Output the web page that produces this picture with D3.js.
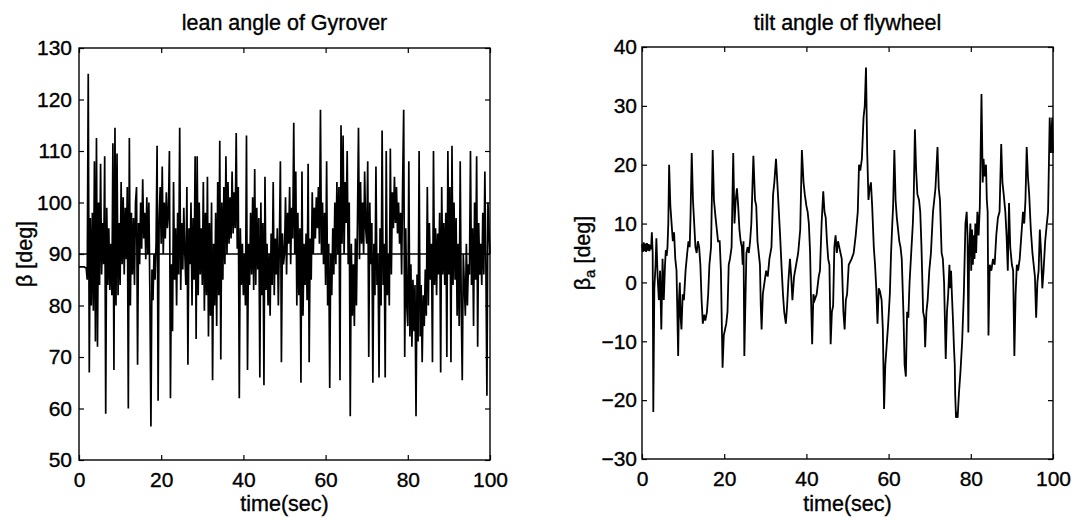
<!DOCTYPE html>
<html>
<head>
<meta charset="utf-8">
<script src="https://cdn.jsdelivr.net/npm/d3@7"></script>
<style>
  body { margin: 0; background: #fff; }
  text { font-family: "Liberation Sans", Arial, Helvetica, sans-serif; fill: #000; stroke: #000; stroke-width: 0.35px; }
</style>
</head>
<body>
<svg id="chart" width="1074" height="518"></svg>
<script>
// shared axis ticks
const timeTicks = [0, 20, 40, 60, 80, 100];
const leanTicks = [50, 60, 70, 80, 90, 100, 110, 120, 130];
const flyTicks = [-30, -20, -10, 0, 10, 20, 30, 40];

// lean angle of Gyrover, sampled every 0.25 s (4 values per second)
const leanDt = 0.25;
const leanBeta = [
  87.5, 87.5, 87.5, 87.5,   87.5, 87.5, 87.4, 87.3,   85, 125, 67, 97,   80, 98, 79, 108,   73, 112.5, 72, 100,
  84, 107.5, 86, 96,   88, 109, 59, 99,   84, 95, 83, 92,   82, 111.5, 67.5, 114.5,   80, 109.5, 82, 96,
  84, 104, 88, 101,   86, 99, 89, 103,   60, 112.5, 80, 98,   86, 97, 84, 100,   103, 68.5, 96, 88,
  100, 91, 104.5, 93,   98, 89, 101, 90,   100, 82, 56.5, 87,   81, 90, 85, 92,   111, 61.5, 97, 103,
  92, 107, 90, 100,   93, 102, 95, 98,   110, 62, 88, 75,   104, 85, 95, 80,   98, 86, 114.5, 83,
  96, 87, 99, 90,   84, 103, 68.5, 95,   88, 100, 80, 97,   85, 109, 73.5, 109,   82, 100, 86, 95,
  84, 104, 79, 98,   82, 105, 74, 96,   78, 100, 65.5, 92,   80, 98, 76, 104,   82, 112, 69.5, 100,
  85, 103, 88, 109,   90, 104, 92, 101,   93, 106, 94, 102,   95, 113.5, 91, 103,   62, 95, 84, 92,
  82, 90, 80, 113,   67.5, 92, 84, 98,   86, 101, 83, 106.5,   84, 99, 87, 97,   66, 100, 82, 96,
  64.5, 105, 83, 92,   80, 90, 78, 94,   84, 104, 82, 93,   86, 95, 80, 92,   108, 69, 94, 88,
  90, 101, 86, 98,   92, 103, 88, 99,   93, 115.5, 90, 106,   80, 98, 82, 95,   65, 106, 78, 92,
  84, 94, 81, 107.5,   69, 93, 85, 102,   90, 99, 93, 101,   95, 103, 92, 118,   90, 100, 88, 98,
  84, 108, 80, 92,   64, 90, 82, 95,   86, 100, 88, 104,   90, 103, 65.5, 115,   92, 113, 90, 104,
  96, 110, 88, 100,   58.5, 92, 78, 88,   76, 93, 80, 96,   114.5, 89, 104, 92,   100, 90, 106, 95,
  92, 108, 70, 100,   88, 96, 65, 92,   82, 107, 84, 90,   66, 95, 80, 114,   84, 92, 66, 110,
  82, 90, 80, 110.5,   86, 102, 95, 105,   96, 103, 94, 100,   92, 98, 86, 104,   118, 70, 95, 80,
  76, 108, 74, 88,   72, 85, 75, 84,   58.5, 86, 73, 110,   74, 84, 69, 82,   76, 87, 78, 103,
  80, 96, 85, 92,   69, 110, 84, 95,   82, 94, 86, 98,   67, 103, 86, 96,   84, 98, 70, 110,
  86, 103, 69, 111,   84, 100, 85, 97,   78, 92, 76, 108,   80, 65.5, 90, 84,   78, 92, 80, 88,
  86, 110, 84, 95,   76, 100, 85, 109,   72, 96, 86, 92,   84, 98, 86, 106,   88, 62.5, 100, 95,
  90
];
const leanRef = 90;

// tilt angle of flywheel: [time (s), beta_a (deg)]
const flyTilt = [
  [0,6.5],[0.2,5.2],[0.4,6.8],[0.6,5.3],[0.8,6.6],[1.0,5.2],[1.2,6.7],[1.4,5.4],[1.6,6.5],[1.8,5.3],
  [2.0,6.4],[2.2,5.6],[2.4,8.5],[2.6,5],[2.75,-22],[3.0,-1],[3.3,3],[3.5,7.5],[3.8,1],[4.1,-3],
  [4.4,2],[4.7,-8],[5.0,4],[5.3,-3],[5.6,3],[5.8,5.5],[6.0,4.5],[6.2,6],[6.4,10],[6.6,20],
  [6.9,13],[7.2,10],[7.5,7],[7.8,8.5],[8.1,4],[8.4,2],[8.8,-12.5],[9.0,-3],[9.2,0],[9.4,-6],
  [9.6,-8],[9.9,-2],[10.2,-3],[10.6,2],[11.0,5],[11.3,7],[11.6,6],[11.8,11],[12.1,22],[12.4,14],
  [12.7,10],[13.0,6],[13.3,5],[13.6,7],[13.9,6],[14.2,3],[14.5,-3],[14.8,-7],[15.1,-5.5],[15.4,-6.5],
  [15.8,-5],[16.1,-2],[16.4,3],[16.8,6],[17.2,22.5],[17.5,14],[17.9,11],[18.2,9],[18.5,7],[18.9,7],
  [19.2,2],[19.6,-14.5],[19.9,-9],[20.2,-8],[20.5,-7],[20.8,-5],[21.1,3],[21.4,4],[21.8,6],[22.2,22],
  [22.5,10],[22.8,14],[23.1,16],[23.4,13],[23.7,9],[24.0,7],[24.3,6],[24.5,3],[24.7,7],[24.9,-12.5],
  [25.2,-2],[25.4,5],[25.7,6],[26.0,5],[26.3,7],[26.6,10],[27.1,21.5],[27.5,14],[27.8,13],[28.1,7],
  [28.4,5],[28.7,3],[28.9,-4],[29.1,-8],[29.4,-2],[29.8,0],[30.2,2],[30.6,1],[31.0,4],[31.5,6],
  [31.9,15],[32.2,17],[32.6,21],[33.0,16],[33.3,12],[33.6,8],[34.0,2],[34.3,-2],[34.6,-5],[35.0,-7],
  [35.3,-4],[35.6,0],[36.0,4],[36.3,1],[36.6,-3],[37.0,1],[37.5,3],[38.0,5],[38.5,9],[38.9,22.5],
  [39.3,17],[39.6,15],[40.0,13],[40.3,12],[40.6,10],[40.9,5],[41.1,-2],[41.4,-10.5],[41.7,-2],[42.0,-3],
  [42.5,-2],[43.0,1],[43.3,2],[43.7,10],[44.1,15.5],[44.4,12],[44.7,11],[45.0,7],[45.3,4],[45.6,3],
  [45.9,-10.5],[46.2,-5],[46.5,-4],[46.8,6],[47.1,8],[47.4,5],[47.7,7],[48.0,6],[48.3,5],[48.6,4],
  [49.0,-5],[49.3,-8],[49.6,-3],[49.9,-2],[50.3,3],[51.0,4],[51.5,5],[52.0,8],[52.5,12],[52.8,20],
  [53.1,19],[53.5,21],[53.9,28],[54.2,30],[54.5,36.5],[54.8,22],[55.1,14],[55.4,16],[55.7,17],[56.0,13],
  [56.4,6],[56.7,3],[57.0,-1],[57.3,-7],[57.6,-1],[57.9,-1.5],[58.3,-3],[58.6,-8],[58.9,-21.5],[59.2,-14],
  [59.5,-11],[59.9,-7],[60.3,-2],[60.6,5],[60.9,10],[61.1,13],[61.4,22.5],[61.7,14],[62.0,11],[62.3,9],
  [62.6,7],[62.9,6],[63.2,4],[63.6,-5],[63.9,-14],[64.2,-16],[64.5,-5],[64.8,-6],[65.1,0],[65.5,5],
  [65.9,10],[66.1,14],[66.4,26],[66.7,19],[67.0,15],[67.4,14],[67.7,12],[68.0,6],[68.4,-5],[68.7,-6],
  [68.9,-11],[69.2,-5],[69.5,-3],[69.9,2],[70.3,5],[70.8,12],[71.4,16],[71.9,23],[72.2,16],[72.5,14],
  [72.9,5],[73.2,4],[73.5,0],[73.9,-13],[74.2,-5],[74.5,-2],[74.8,3],[75.0,-1],[75.2,2],[75.4,-2],
  [75.7,-7],[75.9,-11],[76.1,-14],[76.2,-19],[76.4,-23],[76.6,-22],[76.8,-23],[77.1,-19],[77.5,-15],[77.9,-10],
  [78.3,-2],[78.7,10],[79.0,12],[79.2,8],[79.4,-8.5],[79.6,5],[79.9,10],[80.1,2],[80.3,9],[80.5,3],
  [80.7,8],[80.9,4],[81.1,10],[81.3,5],[81.6,12],[81.9,8],[82.2,13],[82.6,32],[82.9,17],[83.1,21],
  [83.4,18],[83.7,20],[83.9,14],[84.1,12],[84.3,-9],[84.6,3],[85.0,2],[85.4,4],[85.8,3],[86.2,8],
  [86.6,11],[87.0,12],[87.4,23.5],[87.7,17],[88.0,15],[88.4,12],[88.7,8],[89.0,2],[89.3,13.5],[89.6,6],
  [90.0,3],[90.3,2],[90.6,-12.5],[90.9,-2],[91.2,3],[91.5,2],[91.9,4],[92.3,8],[92.7,12],[93.0,10],
  [93.3,14],[93.6,23],[93.9,18],[94.2,15],[94.6,9],[95.0,5],[95.3,3],[95.6,1],[95.9,-6],[96.2,0],
  [96.5,2],[96.8,9],[97.1,5],[97.4,-1],[97.7,2],[98.1,7],[98.5,10],[98.8,12],[99.2,28],[99.5,22],
  [99.8,28],[100,22]
];

const svg = d3.select("#chart");

function drawPanel(opt) {
  const g = svg.append("g").attr("transform", `translate(${opt.left}, ${opt.top})`);
  const w = opt.width, h = opt.height;

  const x = d3.scaleLinear().domain([0, 100]).range([0, w]);
  const y = d3.scaleLinear().domain(opt.yDomain).range([h, 0]);

  // bottom and left axes with labels, ticks pointing inwards
  const xAxis = g.append("g").attr("transform", `translate(0, ${h})`)
    .call(d3.axisBottom(x).tickValues(timeTicks).tickSizeInner(-5).tickSizeOuter(0).tickPadding(12));
  const yAxis = g.append("g")
    .call(d3.axisLeft(y).tickValues(opt.yTicks).tickSizeInner(-5).tickSizeOuter(0).tickPadding(opt.yPad));
  // mirrored ticks on top and right
  const xTop = g.append("g")
    .call(d3.axisTop(x).tickValues(timeTicks).tickSizeInner(-5).tickSizeOuter(0).tickFormat(""));
  const yRight = g.append("g").attr("transform", `translate(${w}, 0)`)
    .call(d3.axisRight(y).tickValues(opt.yTicks).tickSizeInner(-5).tickSizeOuter(0).tickFormat(""));

  [xAxis, yAxis, xTop, yRight].forEach(a => {
    a.select(".domain").remove();
    a.selectAll(".tick line").attr("stroke", "#000").attr("stroke-width", 1.2);
    a.selectAll(".tick text").attr("font-size", "21px").attr("fill", "#000")
      .attr("font-family", '"Liberation Sans", Arial, sans-serif');
  });

  if (opt.ref !== undefined) {
    g.append("line")
      .attr("x1", x(0)).attr("x2", x(100))
      .attr("y1", y(opt.ref)).attr("y2", y(opt.ref))
      .attr("stroke", "#000").attr("stroke-width", 1.6);
  }

  const line = d3.line().x(d => x(d[0])).y(d => y(d[1]));
  g.append("path")
    .datum(opt.data)
    .attr("fill", "none")
    .attr("stroke", "#000")
    .attr("stroke-width", opt.lineWidth)
    .attr("stroke-linejoin", "miter")
    .attr("d", line);

  g.append("rect")
    .attr("width", w).attr("height", h)
    .attr("fill", "none").attr("stroke", "#000").attr("stroke-width", 1.4);

  g.append("text")
    .attr("x", w / 2).attr("y", 30 - opt.top)
    .attr("text-anchor", "middle")
    .attr("font-size", "21.5px")
    .text(opt.title);

  g.append("text")
    .attr("x", w / 2).attr("y", 511 - opt.top)
    .attr("text-anchor", "middle")
    .attr("font-size", "21.5px")
    .text("time(sec)");

  const yl = g.append("text")
    .attr("transform", `translate(${opt.ylabelX - opt.left}, ${h / 2}) rotate(-90)`)
    .attr("text-anchor", "middle")
    .attr("font-size", "21.5px");
  yl.append("tspan").text("β");
  if (opt.sub) {
    yl.append("tspan").attr("font-size", "15px").attr("dy", 5).text(opt.sub);
    yl.append("tspan").attr("dy", -5).text(" [deg]");
  } else {
    yl.append("tspan").text(" [deg]");
  }
}

drawPanel({
  left: 79, top: 48, width: 411, height: 412,
  yDomain: [50, 130], yTicks: leanTicks, yPad: 7,
  data: leanBeta.map((v, i) => [i * leanDt, v]),
  ref: leanRef, lineWidth: 1.7,
  title: "lean angle of Gyrover",
  ylabelX: 32
});

drawPanel({
  left: 642, top: 47, width: 411, height: 412,
  yDomain: [-30, 40], yTicks: flyTicks, yPad: 5,
  data: flyTilt, lineWidth: 1.8,
  title: "tilt angle of flywheel",
  ylabelX: 590, sub: "a"
});
</script>
</body>
</html>
